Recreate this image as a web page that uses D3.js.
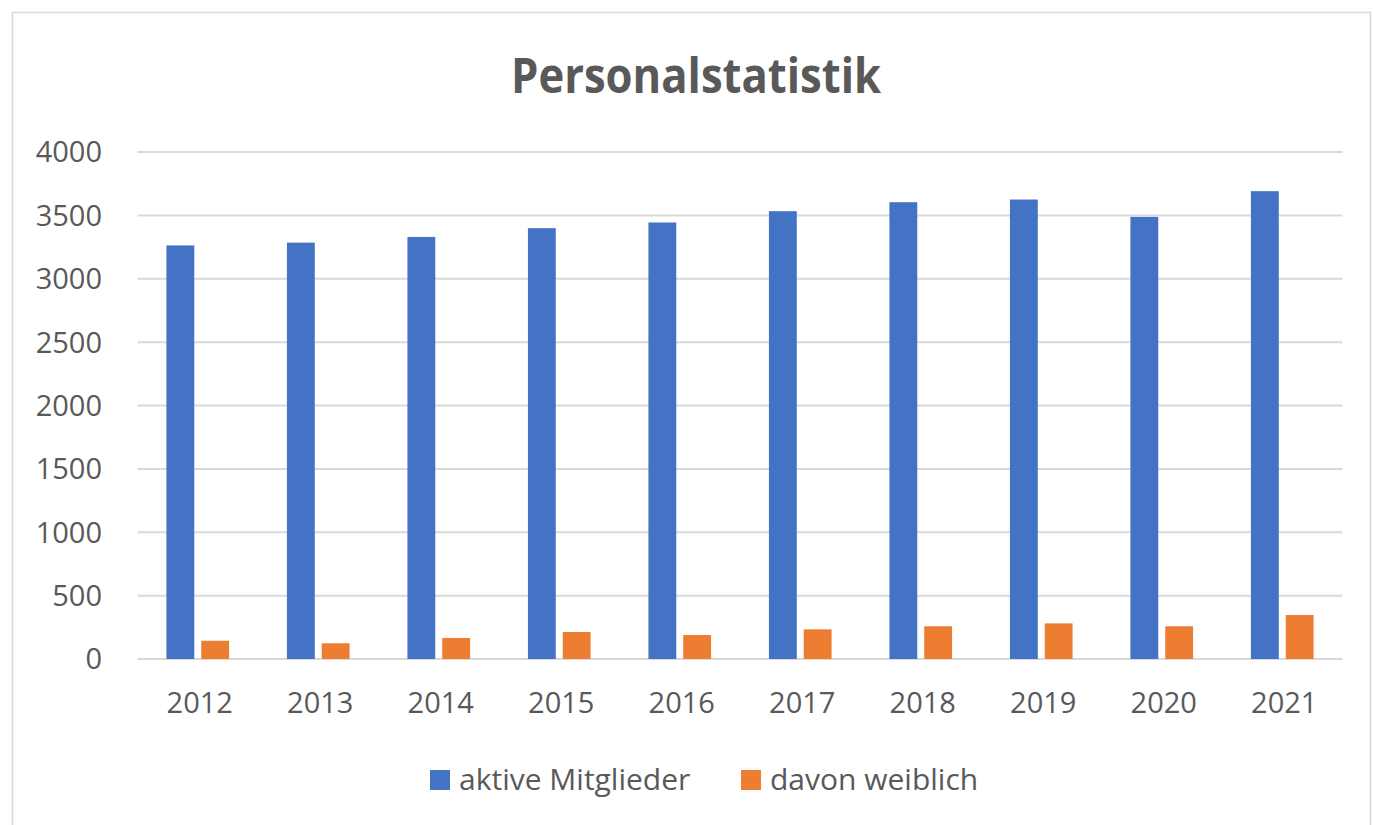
<!DOCTYPE html>
<html>
<head>
<meta charset="utf-8">
<script src="https://cdn.jsdelivr.net/npm/d3@7"></script>
<style>
  body { margin: 0; background: #fff; }
  text { font-family: "Open Sans", "Noto Sans", sans-serif; fill: #595959; }
</style>
</head>
<body>
<div id="chart"></div>
<script>
// data
const years = ["2012", "2013", "2014", "2015", "2016", "2017", "2018", "2019", "2020", "2021"];
const aktive = [3263, 3285, 3330, 3399, 3444, 3533, 3604, 3625, 3488, 3691];
const weiblich = [144, 124, 166, 213, 189, 234, 258, 281, 258, 347];
const seriesNames = ["aktive Mitglieder", "davon weiblich"];
const seriesColors = ["#4472c4", "#ed7d31"];
const yTicks = [0, 500, 1000, 1500, 2000, 2500, 3000, 3500, 4000];

const width = 1373;
const height = 825;

const svg = d3.select("#chart")
  .append("svg")
    .attr("width", width)
    .attr("height", height)

// chart border
svg.append("rect")
    .attr("x", 12.5)
    .attr("y", 12.5)
    .attr("width", 1358)
    .attr("height", 830)
    .attr("fill", "none")
    .attr("stroke", "#d9d9d9")
    .attr("stroke-width", 1.5)

const data = years.map((y, i) => ({ year: y, values: [aktive[i], weiblich[i]] }))

// scales
const x0 = d3.scaleBand()
    .domain(years)
    .range([137.5, 1342.5])
    .paddingInner(0.48)
    .paddingOuter(0.24)

const x1 = d3.scaleBand()
    .domain([0, 1])
    .range([0, x0.bandwidth()])
    .paddingInner(0.2)

const y = d3.scaleLinear()
    .domain([0, 4000])
    .range([659, 152])

// gridlines
svg.append("g")
    .selectAll("line")
    .data(yTicks)
    .join("line")
      .attr("x1", 137.5)
      .attr("x2", 1342.5)
      .attr("y1", d => y(d))
      .attr("y2", d => y(d))
      .attr("stroke", "#d9d9d9")
      .attr("stroke-width", 2)

// y tick labels
svg.append("g")
    .selectAll("text")
    .data(yTicks)
    .join("text")
      .attr("x", 102)
      .attr("y", d => y(d))
      .attr("dy", "0.36em")
      .attr("text-anchor", "end")
      .style("font-size", "29px")
      .text(d => d)

// bars
const groups = svg.append("g")
    .selectAll("g")
    .data(data)
    .join("g")
      .attr("transform", d => `translate(${x0(d.year)},0)`)

groups.selectAll("rect")
    .data(d => d.values)
    .join("rect")
      .attr("x", (d, i) => x1(i))
      .attr("width", x1.bandwidth())
      .attr("y", d => y(d))
      .attr("height", d => y(0) - y(d))
      .attr("fill", (d, i) => seriesColors[i])

// x labels
svg.append("g")
    .selectAll("text")
    .data(years)
    .join("text")
      .attr("x", d => x0(d) + x0.bandwidth() / 2 + 2)
      .attr("y", 713)
      .attr("text-anchor", "middle")
      .style("font-size", "29px")
      .text(d => d)

// title
svg.append("text")
    .attr("x", 696)
    .attr("y", 93)
    .attr("text-anchor", "middle")
    .attr("textLength", 370)
    .attr("lengthAdjust", "spacingAndGlyphs")
    .style("font-size", "48px")
    .style("font-weight", "bold")
    .text("Personalstatistik")

// legend
const legendX = [430, 741];
const legend = svg.append("g")
    .selectAll("g")
    .data(seriesNames)
    .join("g")
      .attr("transform", (d, i) => `translate(${legendX[i]},770)`)

legend.append("rect")
    .attr("width", 20)
    .attr("height", 20)
    .attr("fill", (d, i) => seriesColors[i])

legend.append("text")
    .attr("x", 29)
    .attr("y", 20)
    .style("font-size", "30px")
    .text(d => d)
</script>
</body>
</html>
